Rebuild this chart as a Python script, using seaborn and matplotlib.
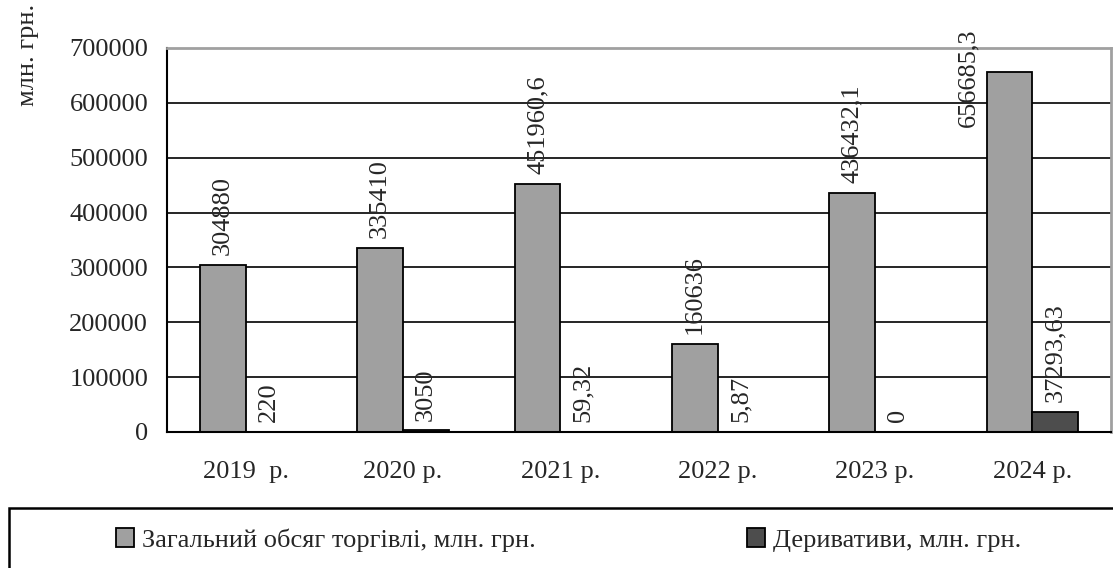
import numpy as np
import pandas as pd
import matplotlib as mpl
import matplotlib.pyplot as plt
import seaborn as sns
from matplotlib.patches import Patch, Rectangle

years = ['2019  р.', '2020 р.', '2021 р.', '2022 р.', '2023 р.', '2024 р.']
total = [304880, 335410, 451960.6, 160636, 436432.1, 656685.3]
deriv = [220, 3050, 59.32, 5.87, 0, 37293.63]
name_total = 'Загальний обсяг торгівлі, млн. грн.'
name_deriv = 'Деривативи, млн. грн.'
yticks = [0, 100000, 200000, 300000, 400000, 500000, 600000, 700000]

c_total = '#a0a0a0'
c_deriv = '#4d4d4d'

def fmt(v):
    s = f'{v:.2f}'.rstrip('0').rstrip('.')
    return s.replace('.', ',')

df = pd.DataFrame({'year': years, name_total: total, name_deriv: deriv})
df = df.melt(id_vars='year', var_name='series', value_name='value')

sns.set_style('white')
plt.rcParams['font.family'] = ['Liberation Serif', 'DejaVu Serif']
fs = 19

fig = plt.figure(figsize=(11.13, 5.68), dpi=100)
ax = fig.add_axes([167/1113, 1-432/568, (1111-167)/1113, (432-48)/568])

sns.barplot(data=df, x='year', y='value', hue='series',
            palette=[c_total, c_deriv], saturation=1, width=0.58,
            edgecolor='black', linewidth=1.3, legend=False, ax=ax)

ax.set_ylim(0, 700000)
ax.set_xlim(-0.5, len(years) - 0.5)
ax.set_yticks(yticks)
ax.set_yticklabels([str(t) for t in yticks], fontsize=fs)
ax.set_xlabel('')
ax.set_ylabel('')
ax.yaxis.grid(True, color='black', linewidth=1.2)
ax.set_axisbelow(True)

ax.set_xticks(np.arange(-0.5, len(years)), minor=True)
ax.tick_params(axis='x', which='major', length=0, pad=21, labelsize=fs)
ax.tick_params(axis='x', which='minor', length=6, width=1.2, direction='out', color='black')
ax.tick_params(axis='y', length=6.5, width=1.2, direction='out', color='black', pad=7)

for s in ['left', 'bottom']:
    ax.spines[s].set_color('black')
    ax.spines[s].set_linewidth(1.5)
for s in ['top', 'right']:
    ax.spines[s].set_color('#a0a0a0')
    ax.spines[s].set_linewidth(2)

# data labels
lab_total = [fmt(v) for v in total]
lab_deriv = [fmt(v) for v in deriv]
lab_total_draw = lab_total[:-1] + ['']
ax.bar_label(ax.containers[0], labels=lab_total_draw, rotation=90, padding=7, fontsize=fs)
ax.bar_label(ax.containers[1], labels=lab_deriv, rotation=90, padding=7, fontsize=fs)
# last one doesn't fit above the bar
last = ax.containers[0][-1]
ax.annotate(lab_total[-1], xy=(last.get_x() + last.get_width() / 2, last.get_height()),
            xytext=(-30, -40), textcoords='offset points', rotation=90,
            ha='center', va='bottom', fontsize=fs)

fig.text(28/1113, 1-55/568, 'млн. грн.', rotation=90, ha='center', va='center', fontsize=fs)

# legend
fig.add_artist(Rectangle((9/1113, -0.5), 2, 0.5 + (568-508)/568, transform=fig.transFigure,
                         fill=False, edgecolor='black', linewidth=1.8, clip_on=False))
for name, col, xpos in [(name_total, c_total, 116), (name_deriv, c_deriv, 747)]:
    h = Patch(facecolor=col, edgecolor='black', linewidth=1.3)
    fig.legend(handles=[h], labels=[name], loc='center left',
               bbox_to_anchor=(xpos/1113, 1-540/568), frameon=False,
               borderpad=0, borderaxespad=0, handlelength=0.7, handleheight=0.7,
               handletextpad=0.3, fontsize=fs)

fig.savefig('out.png', dpi=100)
